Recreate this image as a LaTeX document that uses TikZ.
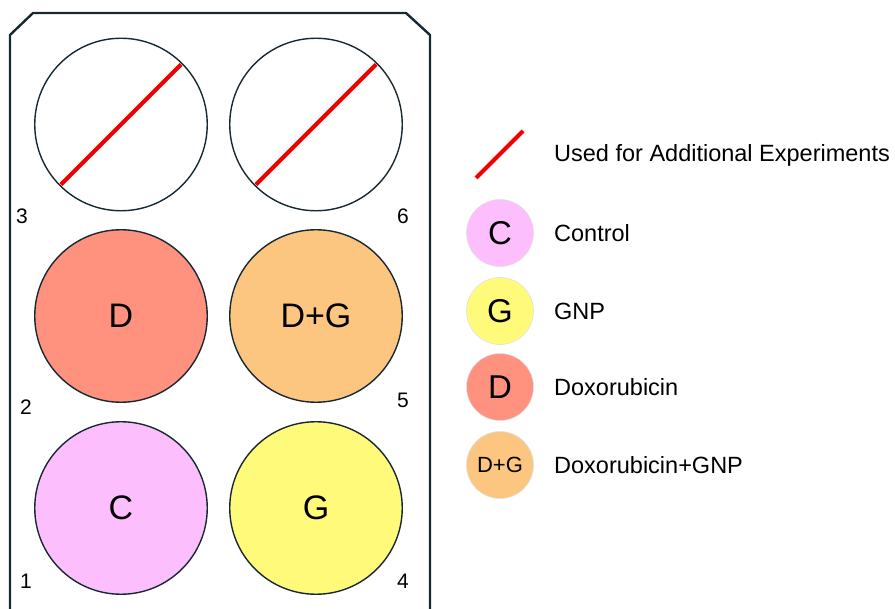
\documentclass[tikz,border=0pt]{standalone}
\usepackage{fontspec}
\setmainfont{Liberation Sans}
\definecolor{outl}{RGB}{22,40,50}
\definecolor{redl}{RGB}{240,0,0}
\definecolor{cpink}{RGB}{253,190,253}
\definecolor{gyel}{RGB}{255,250,122}
\definecolor{dsal}{RGB}{255,146,126}
\definecolor{dgor}{RGB}{253,198,128}
\tikzset{
  well/.style={circle, draw=outl, line width=1.4pt, minimum size=172.5pt, inner sep=0pt, font=\fontsize{34}{36}\selectfont},
  legc/.style={circle, draw=black!12, line width=0.6pt, minimum size=67pt, inner sep=0pt, font=\fontsize{33}{35}\selectfont},
  legt/.style={anchor=west, inner sep=0pt, font=\fontsize{23.5}{26}\selectfont},
  num/.style={inner sep=0pt, font=\fontsize{21}{23}\selectfont},
  redline/.style={draw=redl, line width=4pt},
  plate/.style={draw=outl, line width=2.4pt, line join=miter}
}
\begin{document}
\begin{tikzpicture}[x=1pt,y=-1pt]
\useasboundingbox (0,0) rectangle (895,609);
% plate outline
\draw[plate] (10,612) -- (10,35) -- (33,13) -- (406,13) -- (430,35) -- (430,612);
% wells
\node[well] (w3) at (121,124.5) {};
\node[well] (w6) at (316,124.5) {};
\node[well, fill=dsal] (w2) at (121,316) {D};
\node[well, fill=dgor] (w5) at (316,316) {D+G};
\node[well, fill=cpink] (w1) at (121,508) {C};
\node[well, fill=gyel] (w4) at (316,508) {G};
\draw[redline, shorten <=2pt, shorten >=2pt] (w3.225) -- (w3.45);
\draw[redline, shorten <=2pt, shorten >=2pt] (w6.225) -- (w6.45);
% numbers
\node[num] (n3) at (22,216) {3};
\node[num] (n6) at (403,216) {6};
\node[num] (n2) at (26,407) {2};
\node[num] (n5) at (403,400) {5};
\node[num] (n1) at (26,581) {1};
\node[num] (n4) at (403,581) {4};
% legend
\coordinate (la) at (476,178);
\coordinate (lb) at (523,131);
\draw[redline] (la) -- (lb);
\node[legt] (t0) at (554,155) {Used for Additional Experiments};
\node[legc, fill=cpink] (lc) at (500,233) {C};
\node[legt] (t1) at (554,233) {Control};
\node[legc, fill=gyel] (lg) at (500,311) {G};
\node[legt] (t2) at (554,311) {GNP};
\node[legc, fill=dsal] (ld) at (500,387) {D};
\node[legt] (t3) at (554,387) {Doxorubicin};
\node[legc, fill=dgor, font=\fontsize{22}{24}\selectfont] (ldg) at (500,465) {D+G};
\node[legt] (t4) at (554,465) {Doxorubicin+GNP};
\end{tikzpicture}
\end{document}
